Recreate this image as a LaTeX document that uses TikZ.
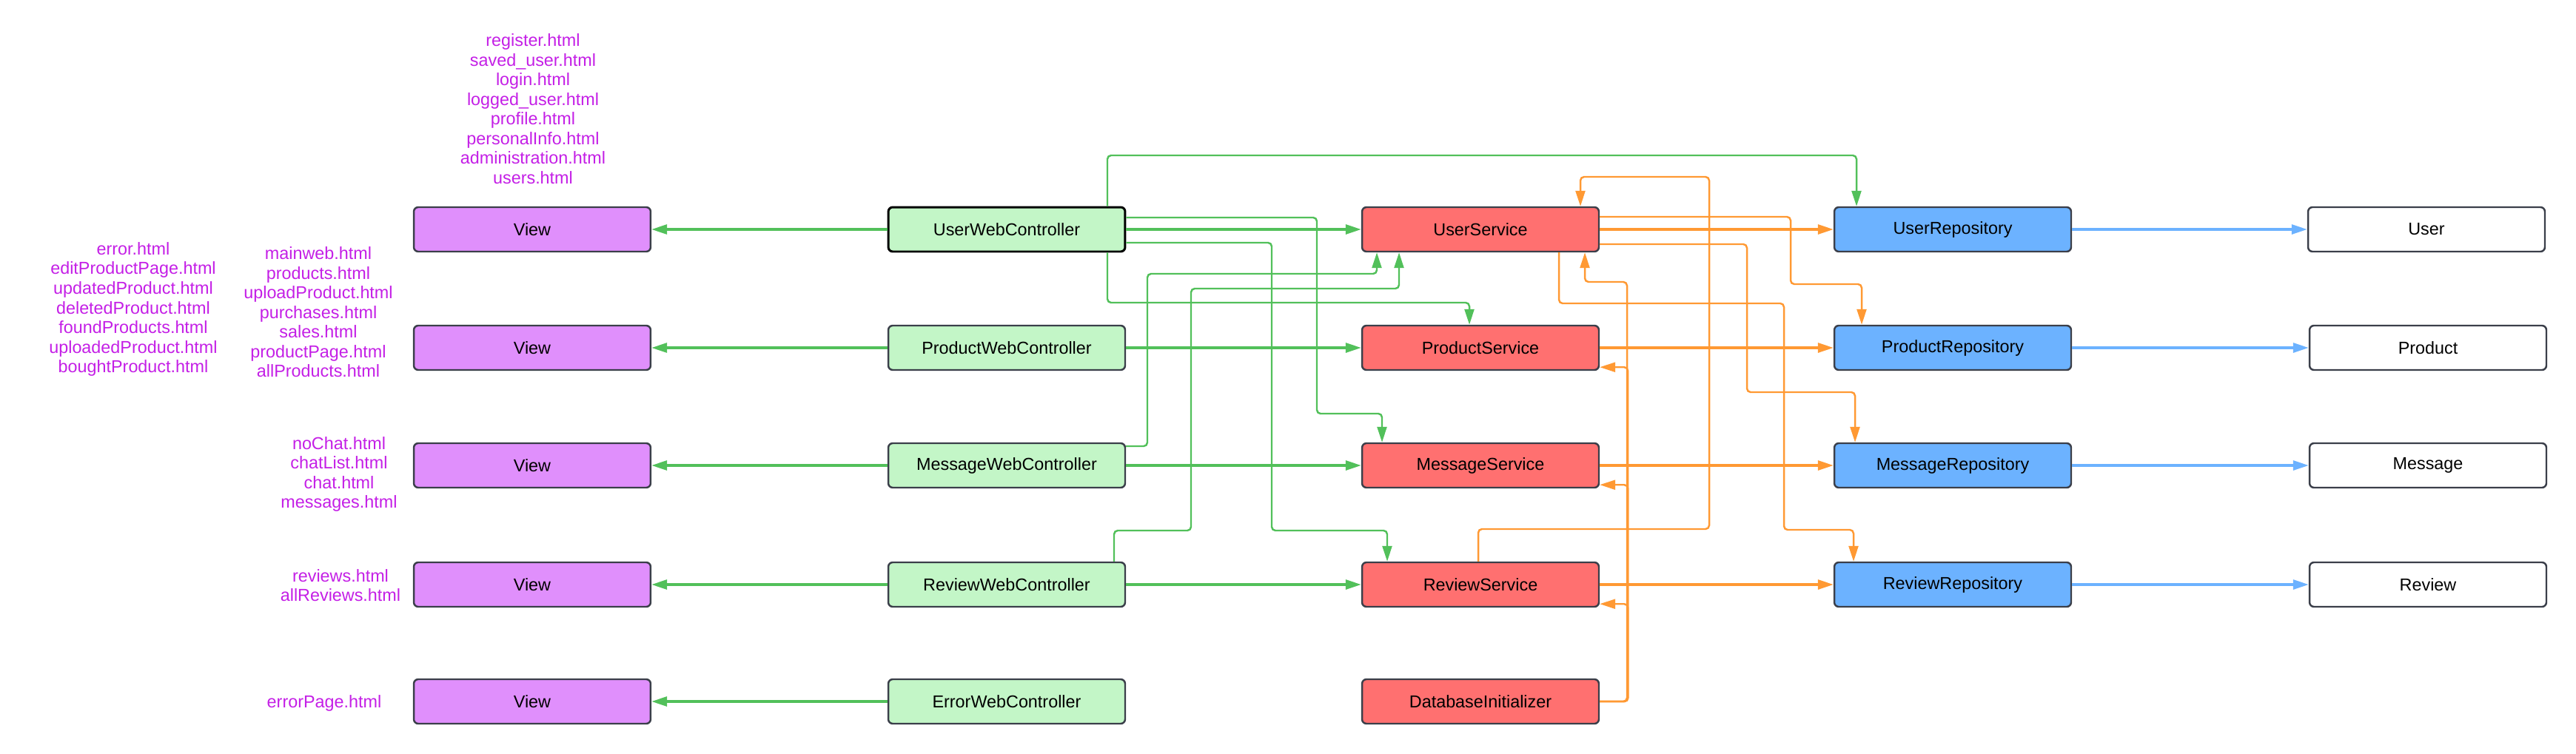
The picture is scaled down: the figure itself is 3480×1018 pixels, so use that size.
\documentclass[tikz,border=0pt]{standalone}
\usepackage{fontspec}
\setmainfont{Liberation Sans}
\usetikzlibrary{arrows.meta,calc}

\definecolor{viewfill}{HTML}{E08FFC}
\definecolor{ctrlfill}{HTML}{C3F6C7}
\definecolor{svcfill}{HTML}{FF7070}
\definecolor{repofill}{HTML}{6CB2FF}
\definecolor{boxline}{HTML}{3B3F4A}
\definecolor{pagetext}{HTML}{C41FE6}
\definecolor{greenline}{HTML}{52C05A}
\definecolor{orangeline}{HTML}{FF9933}
\definecolor{blueline}{HTML}{6CB2FF}

\begin{document}
\begin{tikzpicture}[x=0.02cm, y=-0.02cm,
    basebox/.style={draw=boxline, line width=1.4pt, rounded corners=0.12cm, minimum width=6.4cm, minimum height=1.2cm, inner sep=0pt, font=\fontsize{13.3}{15.1}\selectfont},
    viewbox/.style={basebox, fill=viewfill},
    ctrlbox/.style={basebox, fill=ctrlfill},
    svcbox/.style={basebox, fill=svcfill},
    repobox/.style={basebox, fill=repofill},
    entitybox/.style={basebox, fill=white},
    pages/.style={text=pagetext, align=center, inner sep=0pt, font=\fontsize{13.3}{15.1}\selectfont},
    headtip/.style={-{Triangle[length=0.42cm, width=0.26cm]}},
    gline/.style={headtip, draw=greenline, line width=1.8pt},
    gthin/.style={headtip, draw=greenline, line width=1.4pt, rounded corners=0.1cm},
    oline/.style={headtip, draw=orangeline, line width=1.8pt},
    othin/.style={headtip, draw=orangeline, line width=1.4pt, rounded corners=0.1cm},
    bline/.style={headtip, draw=blueline, line width=1.8pt}]

    \useasboundingbox (0,0) rectangle (3480,1018);

    \foreach \n/\y in {1/310, 2/470, 3/629, 4/790, 5/948}
    {
        \node[viewbox] (view\n) at (719,\y) {View};
    }

    \node[ctrlbox, draw=black, line width=1.7pt] (userctrl) at (1360,310) {UserWebController};
    \node[ctrlbox] (productctrl) at (1360,470) {ProductWebController};
    \node[ctrlbox] (messagectrl) at (1360,629) {MessageWebController};
    \node[ctrlbox] (reviewctrl) at (1360,790) {ReviewWebController};
    \node[ctrlbox] (errorctrl) at (1360,948) {ErrorWebController};

    \node[svcbox] (usersvc) at (2000,310) {UserService};
    \node[svcbox] (productsvc) at (2000,470) {ProductService};
    \node[svcbox] (messagesvc) at (2000,629) {MessageService};
    \node[svcbox] (reviewsvc) at (2000,790) {ReviewService};
    \node[svcbox] (dbinit) at (2000,948) {DatabaseInitializer};

    \node[repobox] (userrepo) at (2638,310) {UserRepository};
    \node[repobox] (productrepo) at (2638,470) {ProductRepository};
    \node[repobox] (messagerepo) at (2638,629) {MessageRepository};
    \node[repobox] (reviewrepo) at (2638,790) {ReviewRepository};

    \node[entitybox] (user) at (3278,310) {User};
    \node[entitybox] (product) at (3280,470) {Product};
    \node[entitybox] (message) at (3280,629) {Message};
    \node[entitybox] (review) at (3280,790) {Review};

    \node[pages] (userpages) at (720,147) {register.html\\saved\_user.html\\login.html\\logged\_user.html\\profile.html\\personalInfo.html\\administration.html\\users.html};
    \node[pages] (errorpages) at (180,418) {error.html\\editProductPage.html\\updatedProduct.html\\deletedProduct.html\\foundProducts.html\\uploadedProduct.html\\boughtProduct.html};
    \node[pages] (productpages) at (430,422) {mainweb.html\\products.html\\uploadProduct.html\\purchases.html\\sales.html\\productPage.html\\allProducts.html};
    \node[pages] (messagepages) at (458,641) {noChat.html\\chatList.html\\chat.html\\messages.html};
    \node[pages] (reviewpages) at (460,791) {reviews.html\\allReviews.html};
    \node[pages] (errorpage) at (438,950) {errorPage.html};

    \foreach \c/\v in {userctrl/view1, productctrl/view2, messagectrl/view3, reviewctrl/view4, errorctrl/view5}
    {
        \draw[gline] (\c) -- (\v);
    }
    \foreach \c/\s in {userctrl/usersvc, productctrl/productsvc, messagectrl/messagesvc, reviewctrl/reviewsvc}
    {
        \draw[gline] (\c) -- (\s);
    }

    \draw[gthin] (userctrl.north -| 1496,0) |- (2508,210) -- (userrepo.north -| 2508,0);
    \draw[gthin] (userctrl.south -| 1496,0) |- (1985,409) -- (productsvc.north -| 1985,0);
    \draw[gthin] (userctrl.east |- 0,294) -| (1779,559) -| (messagesvc.north -| 1867,0);
    \draw[gthin] (userctrl.east |- 0,328) -| (1718,717) -| (reviewsvc.north -| 1874,0);
    \draw[gthin] (messagectrl.east |- 0,603) -| (1550,370) -| (usersvc.south -| 1860,0);
    \draw[gthin] (reviewctrl.north -| 1505,0) |- (1609,717) |- (1890,390) -- (usersvc.south -| 1890,0);

    \foreach \s/\r in {usersvc/userrepo, productsvc/productrepo, messagesvc/messagerepo, reviewsvc/reviewrepo}
    {
        \draw[oline] (\s) -- (\r);
    }

    \draw[othin] (usersvc.east |- 0,293) -| (2419,384) -| (productrepo.north -| 2515,0);
    \draw[othin] (usersvc.east |- 0,330) -| (2360,530) -| (messagerepo.north -| 2506,0);
    \draw[othin] (usersvc.south -| 2106,0) |- (2410,410) |- (2504,716) -- (reviewrepo.north -| 2504,0);
    \draw[othin] (reviewsvc.north -| 1997,0) |- (2309,715) |- (2135,239) -- (usersvc.north -| 2135,0);

    \draw[othin] (dbinit.east) -| (2198,381) -| (usersvc.south -| 2141,0);
    \foreach \s in {productsvc, messagesvc, reviewsvc}
    {
        \draw[othin] (dbinit.east) -| ($(\s.south east)+(38,-5)$) -- ($(\s.south east)+(0,-5)$);
    }

    \foreach \r/\e in {userrepo/user, productrepo/product, messagerepo/message, reviewrepo/review}
    {
        \draw[bline] (\r) -- (\e);
    }

\end{tikzpicture}
\end{document}
